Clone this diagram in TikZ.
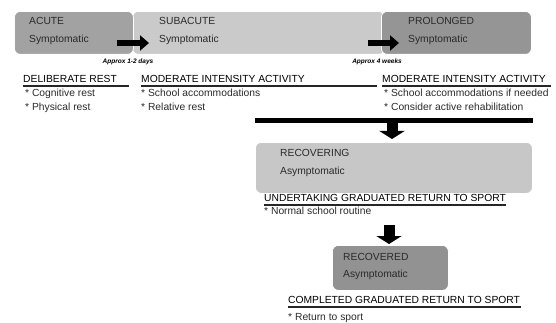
\documentclass[tikz,border=0pt]{standalone}
\usepackage{fontspec}
\setmainfont{Liberation Sans}
\usetikzlibrary{arrows.meta}
\definecolor{cAcute}{HTML}{A2A2A2}
\definecolor{cSub}{HTML}{CACACA}
\definecolor{cProl}{HTML}{959595}
\definecolor{cRecg}{HTML}{C7C7C7}
\definecolor{cRecd}{HTML}{929292}
\definecolor{txt}{HTML}{2A2A2A}
\tikzset{
  phase/.style={rounded corners=6pt, draw=white, line width=0.8pt, anchor=north west, inner sep=0pt},
  lbl/.style={anchor=base west, inner sep=0pt, font=\fontsize{10.3}{12}\selectfont, text=txt},
  head/.style={anchor=base west, inner sep=0pt, font=\fontsize{10.3}{12}\selectfont, text=black},
  approx/.style={inner sep=0pt, font=\fontsize{6.5}{8}\selectfont\bfseries\itshape},
  uline/.style={line width=1.6pt, black!85},
  harrow/.style={line width=6pt, -{Triangle[width=15pt,length=9pt]}},
  varrow/.style={line width=11pt, -{Triangle[width=25pt,length=8pt]}},
}
\begin{document}
\begin{tikzpicture}[x=1pt,y=-1pt]
\useasboundingbox (0,0) rectangle (556,323);
% top phase boxes
\node[phase, fill=cSub, minimum width=252pt, minimum height=43pt] (sub) at (132,11) {};
\node[phase, fill=cAcute, minimum width=119pt, minimum height=43pt] (acute) at (14,11) {};
\node[phase, fill=cProl, minimum width=150pt, minimum height=43pt] (prol) at (381,11) {};
\node[lbl] (tAcute) at (29,25) {ACUTE};
\node[lbl] (sAcute) at (29,43) {Symptomatic};
\node[lbl] (tSub) at (159,25) {SUBACUTE};
\node[lbl] (sSub) at (159,43) {Symptomatic};
\node[lbl] (tProl) at (408,25) {PROLONGED};
\node[lbl] (sProl) at (408,43) {Symptomatic};
% horizontal arrows
\coordinate (a1s) at (117,43);
\coordinate (a1e) at (149,43);
\coordinate (a2s) at (368,43);
\coordinate (a2e) at (399,43);
\draw[harrow] (a1s) -- (a1e);
\draw[harrow] (a2s) -- (a2e);
\node[approx] (ap1) at (128,62) {Approx 1-2 days};
\node[approx] (ap2) at (377,62) {Approx 4 weeks};
% headings
\node[head] (h1) at (23,82.5) {DELIBERATE REST};
\coordinate (u1a) at (23,86); \coordinate (u1b) at (129,86);
\draw[uline] (u1a) -- (u1b);
\node[head] (h2) at (141,82.5) {MODERATE INTENSITY ACTIVITY};
\coordinate (u2a) at (141,86); \coordinate (u2b) at (377,86);
\draw[uline] (u2a) -- (u2b);
\node[head] (h3) at (382,82.5) {MODERATE INTENSITY ACTIVITY};
\coordinate (u3a) at (382,86); \coordinate (u3b) at (551,86);
\draw[uline] (u3a) -- (u3b);
% bullets
\node[lbl] (b11) at (25,96.5) {* Cognitive rest};
\node[lbl] (b12) at (25,110.5) {* Physical rest};
\node[lbl] (b21) at (141,96.5) {* School accommodations};
\node[lbl] (b22) at (141,110.5) {* Relative rest};
\node[lbl] (b31) at (384,96.5) {* School accommodations if needed};
\node[lbl] (b32) at (384,110.5) {* Consider active rehabilitation};
% bar and arrow
\coordinate (bar1) at (255,121);
\coordinate (bar2) at (533,121);
\draw[line width=5pt] (bar1) -- (bar2);
\coordinate (d1s) at (392,123);
\coordinate (d1e) at (392,139);
\draw[varrow] (d1s) -- (d1e);
% recovering
\node[phase, fill=cRecg, minimum width=277pt, minimum height=51pt] (recg) at (255,142) {};
\node[lbl] (tRecg) at (280,156.5) {RECOVERING};
\node[lbl] (sRecg) at (280,174.5) {Asymptomatic};
\node[head] (h4) at (264,201.5) {UNDERTAKING GRADUATED RETURN TO SPORT};
\coordinate (u4a) at (264,205); \coordinate (u4b) at (506,205);
\draw[uline] (u4a) -- (u4b);
\node[lbl] (b41) at (264,214.5) {* Normal school routine};
\coordinate (d2s) at (389,225);
\coordinate (d2e) at (389,244);
\draw[varrow] (d2s) -- (d2e);
% recovered
\node[phase, fill=cRecd, minimum width=116pt, minimum height=45pt] (recd) at (332,245) {};
\node[lbl] (tRecd) at (343,260.5) {RECOVERED};
\node[lbl] (sRecd) at (343,277.5) {Asymptomatic};
\node[head] (h5) at (288,303.5) {COMPLETED GRADUATED RETURN TO SPORT};
\coordinate (u5a) at (288,307); \coordinate (u5b) at (521,307);
\draw[uline] (u5a) -- (u5b);
\node[lbl] (b51) at (288,320.5) {* Return to sport};
\end{tikzpicture}
\end{document}
